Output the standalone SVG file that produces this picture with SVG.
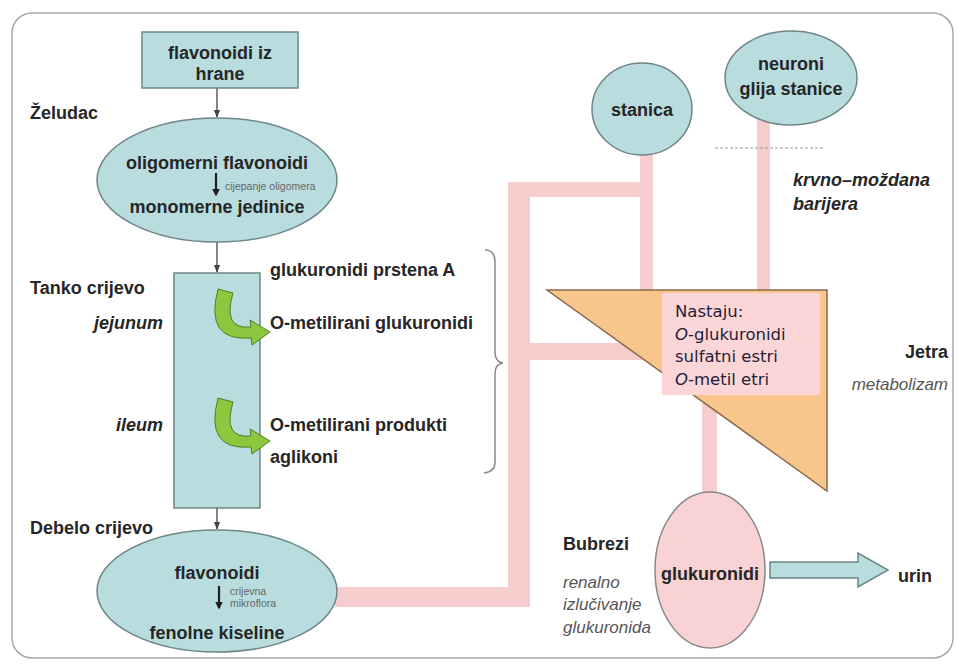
<svg xmlns="http://www.w3.org/2000/svg" width="958" height="665" viewBox="0 0 958 665">
<defs>
<style>
.b{font-family:"Liberation Sans",Arial,sans-serif;font-weight:bold;font-size:18px;fill:#262626}
.bi{font-family:"Liberation Sans",Arial,sans-serif;font-weight:bold;font-style:italic;font-size:18px;fill:#262626}
.it{font-family:"Liberation Sans",Arial,sans-serif;font-style:italic;font-size:17px;fill:#555}
.sm{font-family:"Liberation Sans",Arial,sans-serif;font-size:10.5px;fill:#666}
.v{font-family:"DejaVu Sans",Verdana,sans-serif;font-size:16.5px;fill:#1e1e3a}
.cy{fill:#b9dddf;stroke:#6f8587;stroke-width:1.5}
.pipe{fill:#f5cdcd}
.ln{stroke:#444;stroke-width:1.3;fill:none}
.sa{stroke:#1e1e1e;stroke-width:2.2;fill:none}
.ga{fill:#8dc63f;stroke:#4f7d1f;stroke-width:1}
</style>
<marker id="ah" viewBox="0 0 10 10" refX="9" refY="5" markerWidth="6" markerHeight="6" orient="auto"><path d="M0,1 L10,5 L0,9 Z" fill="#444"/></marker>
<marker id="ah2" viewBox="0 0 10 10" refX="8" refY="5" markerWidth="3.5" markerHeight="3.5" orient="auto"><path d="M0,0 L10,5 L0,10 Z" fill="#1e1e1e"/></marker>
<path id="garrow" d="M218,289 L233,293 Q222,330 251,327 L250,320 L270,332 L252,345 L251,338 Q204,342 218,289 Z"/>
</defs>
<rect x="12" y="13" width="941" height="645" rx="20" fill="#fff" stroke="#a8a8a8" stroke-width="1.5"/>

<g id="connectors">
<rect class="pipe" x="335" y="587" width="195" height="20"/>
<rect class="pipe" x="508" y="182" width="22" height="425"/>
<rect class="pipe" x="508" y="182" width="145" height="15"/>
<rect class="pipe" x="640" y="150" width="13" height="145"/>
<rect class="pipe" x="530" y="343" width="115" height="17"/>
<rect class="pipe" x="757" y="118" width="13" height="177"/>
<rect class="pipe" x="702" y="380" width="15" height="116"/>
<line class="ln" x1="217" y1="88" x2="217" y2="117" marker-end="url(#ah)"/>
<line class="ln" x1="217" y1="242" x2="217" y2="272" marker-end="url(#ah)"/>
<line class="ln" x1="217" y1="508" x2="217" y2="529" marker-end="url(#ah)"/>
<path d="M485,250 Q495,250 495,262 L495,352 Q495,362 503,363 Q495,364 495,374 L495,462 Q495,472 484,473" fill="none" stroke="#8a8a8a" stroke-width="1.5"/>
<line x1="715" y1="148" x2="825" y2="148" stroke="#999" stroke-width="1.2" stroke-dasharray="3,2"/>
<polygon points="770,562 858,562 858,553 888,570 858,587 858,578 770,578" class="cy"/>
</g>

<g id="hrana">
<rect class="cy" x="142" y="32" width="156" height="56"/>
<text class="b" x="220" y="59" text-anchor="middle">flavonoidi iz</text>
<text class="b" x="220" y="80" text-anchor="middle">hrane</text>
</g>

<g id="zeludac">
<text class="b" x="30" y="119">Želudac</text>
<ellipse class="cy" cx="217" cy="180" rx="120" ry="62"/>
<text class="b" x="217" y="169" text-anchor="middle">oligomerni flavonoidi</text>
<line class="sa" x1="216" y1="173" x2="216" y2="195" marker-end="url(#ah2)"/>
<text class="sm" x="225" y="190">cijepanje oligomera</text>
<text class="b" x="217" y="213" text-anchor="middle">monomerne jedinice</text>
</g>

<g id="tanko">
<text class="b" x="30" y="294">Tanko crijevo</text>
<text class="bi" x="163" y="329" text-anchor="end">jejunum</text>
<text class="bi" x="163" y="431" text-anchor="end">ileum</text>
<rect class="cy" x="174" y="273" width="86" height="235"/>
<use href="#garrow" class="ga"/>
<use href="#garrow" class="ga" transform="translate(0,109)"/>
<text class="b" x="270" y="276">glukuronidi prstena A</text>
<text class="b" x="270" y="329">O-metilirani glukuronidi</text>
<text class="b" x="270" y="431">O-metilirani produkti</text>
<text class="b" x="270" y="463">aglikoni</text>
</g>

<g id="debelo">
<text class="b" x="30" y="534">Debelo crijevo</text>
<ellipse class="cy" cx="217" cy="591" rx="120" ry="61"/>
<text class="b" x="217" y="579" text-anchor="middle">flavonoidi</text>
<line class="sa" x1="219" y1="586" x2="219" y2="608" marker-end="url(#ah2)"/>
<text class="sm" x="230" y="595">crijevna</text>
<text class="sm" x="230" y="607">mikroflora</text>
<text class="b" x="217" y="639" text-anchor="middle">fenolne kiseline</text>
</g>

<g id="stanica">
<ellipse class="cy" cx="642" cy="109" rx="50" ry="46"/>
<text class="b" x="642" y="116" text-anchor="middle">stanica</text>
</g>

<g id="neuroni">
<ellipse class="cy" cx="791" cy="78" rx="66" ry="47"/>
<text class="b" x="791" y="70" text-anchor="middle">neuroni</text>
<text class="b" x="791" y="95" text-anchor="middle">glija stanice</text>
<text class="bi" x="793" y="186">krvno–moždana</text>
<text class="bi" x="793" y="210">barijera</text>
</g>

<g id="jetra">
<polygon points="547,290 827,290 827,491" fill="#f6c68c" stroke="#8a6a4c" stroke-width="1.5"/>
<rect x="662" y="293" width="158" height="102" fill="#fcd6d6"/>
<text class="v" x="675" y="317">Nastaju:</text>
<text class="v" x="675" y="340"><tspan font-style="italic">O</tspan>-glukuronidi</text>
<text class="v" x="675" y="362">sulfatni estri</text>
<text class="v" x="675" y="385"><tspan font-style="italic">O</tspan>-metil etri</text>
<text class="b" x="948" y="358" text-anchor="end">Jetra</text>
<text class="it" x="948" y="390" text-anchor="end">metabolizam</text>
</g>

<g id="bubrezi">
<ellipse cx="710" cy="570" rx="55" ry="78" fill="#f9d3d3" stroke="#888" stroke-width="1.5"/>
<text class="b" x="710" y="580" text-anchor="middle">glukuronidi</text>
<text class="b" x="563" y="550">Bubrezi</text>
<text class="it" x="563" y="588">renalno</text>
<text class="it" x="563" y="610">izlučivanje</text>
<text class="it" x="563" y="633">glukuronida</text>
</g>

<g id="urin">
<text class="b" x="898" y="582">urin</text>
</g>
</svg>
